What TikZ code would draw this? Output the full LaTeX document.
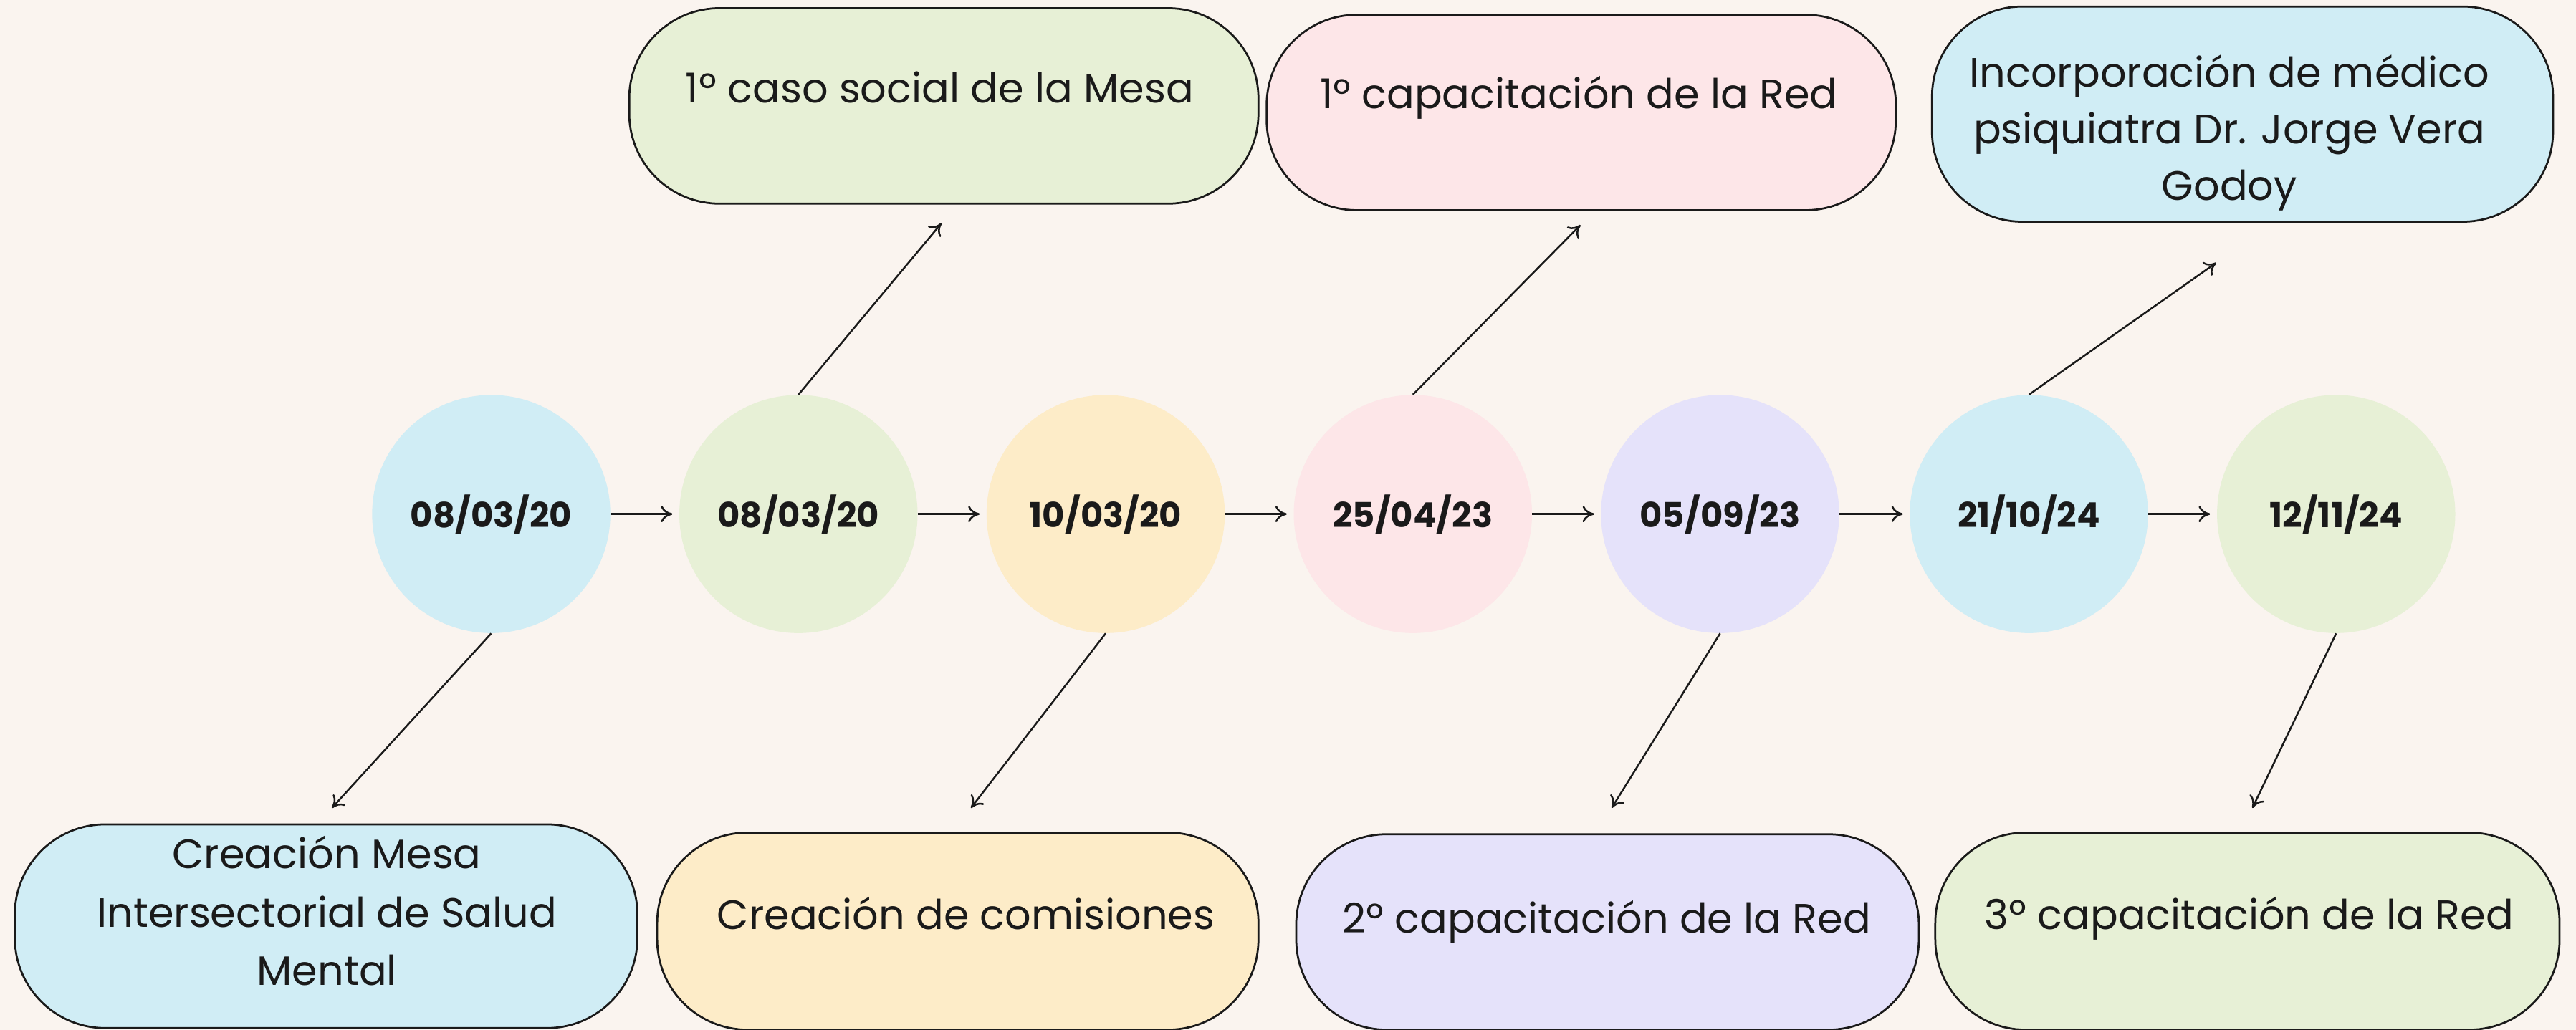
\documentclass[tikz,border=0pt]{standalone}
\usepackage{fontspec}
\setmainfont{Poppins}
\usetikzlibrary{arrows.meta}
\definecolor{bg}{HTML}{FAF4EF}
\definecolor{cblue}{HTML}{D0EDF5}
\definecolor{cgreen}{HTML}{E7F0D6}
\definecolor{cyellow}{HTML}{FDECC8}
\definecolor{cpink}{HTML}{FDE6E8}
\definecolor{clav}{HTML}{E5E2FA}
\definecolor{ink}{HTML}{1A1A1A}
\begin{document}
\begin{tikzpicture}[x=1pt,y=-1pt,
  datenode/.style={circle, minimum size=145pt, inner sep=0pt, text=ink,
    font=\fontsize{21}{25}\selectfont\bfseries},
  evbox/.style={draw=ink, line width=1.2pt, rounded corners=55pt, inner sep=0pt},
  evtext/.style={anchor=base, align=center, text=ink, inner sep=0pt,
    font=\fontsize{25}{35}\selectfont},
  conn/.style={draw=ink, line width=1.1pt, -{To[length=7pt,width=10pt]}},
]
\fill[bg] (0,0) rectangle (1568,627);
\useasboundingbox (0,0) rectangle (1568,627);

% date circles
\node[datenode, fill=cblue]   (c1) at (299,313) {08/03/20};
\node[datenode, fill=cgreen]  (c2) at (486,313) {08/03/20};
\node[datenode, fill=cyellow] (c3) at (673,313) {10/03/20};
\node[datenode, fill=cpink]   (c4) at (860,313) {25/04/23};
\node[datenode, fill=clav]    (c5) at (1047,313) {05/09/23};
\node[datenode, fill=cblue]   (c6) at (1235,313) {21/10/24};
\node[datenode, fill=cgreen]  (c7) at (1422,313) {12/11/24};

% timeline arrows
\foreach \a/\b in {c1/c2,c2/c3,c3/c4,c4/c5,c5/c6,c6/c7}
  \draw[conn, shorten >=4pt] (\a) -- (\b);

% top boxes
\node[evbox, fill=cgreen, minimum width=383pt, minimum height=119pt] (bA) at (574.5,64.5) {};
\node[evtext] (tA) at (572,62.5) {1º caso social de la Mesa};
\node[evbox, fill=cpink, minimum width=383pt, minimum height=119pt] (bB) at (962.5,68.5) {};
\node[evtext] (tB) at (961,66) {1º capacitación de la Red};
\node[evbox, fill=cblue, minimum width=378pt, minimum height=131pt] (bC) at (1365,69.5) {};
\node[evtext, font=\fontsize{25}{34.5}\selectfont] (tC) at (1357,122) {Incorporación de médico\\psiquiatra Dr. Jorge Vera\\Godoy};

% bottom boxes
\node[evbox, fill=cblue, minimum width=379pt, minimum height=124pt] (bD) at (198.5,564) {};
\node[evtext, font=\fontsize{25}{35.5}\selectfont] (tD) at (199,600) {Creación Mesa\\Intersectorial de Salud\\Mental};
\node[evbox, fill=cyellow, minimum width=366pt, minimum height=120pt] (bE) at (583,567) {};
\node[evtext] (tE) at (588,566) {Creación de comisiones};
\node[evbox, fill=clav, minimum width=379pt, minimum height=119pt] (bF) at (978.5,567.5) {};
\node[evtext] (tF) at (978,568) {2º capacitación de la Red};
\node[evbox, fill=cgreen, minimum width=380pt, minimum height=120pt] (bG) at (1368,567) {};
\node[evtext] (tG) at (1369,566) {3º capacitación de la Red};

% branch arrows
\coordinate (eA) at (573,136);
\coordinate (eB) at (962,137);
\coordinate (eC) at (1349,160);
\coordinate (eD) at (202,492);
\coordinate (eE) at (591,492);
\coordinate (eF) at (981,492);
\coordinate (eG) at (1371,492);
\draw[conn] (c2.north) -- (eA);
\draw[conn] (c4.north) -- (eB);
\draw[conn] (c6.north) -- (eC);
\draw[conn] (c1.south) -- (eD);
\draw[conn] (c3.south) -- (eE);
\draw[conn] (c5.south) -- (eF);
\draw[conn] (c7.south) -- (eG);
\end{tikzpicture}
\end{document}
